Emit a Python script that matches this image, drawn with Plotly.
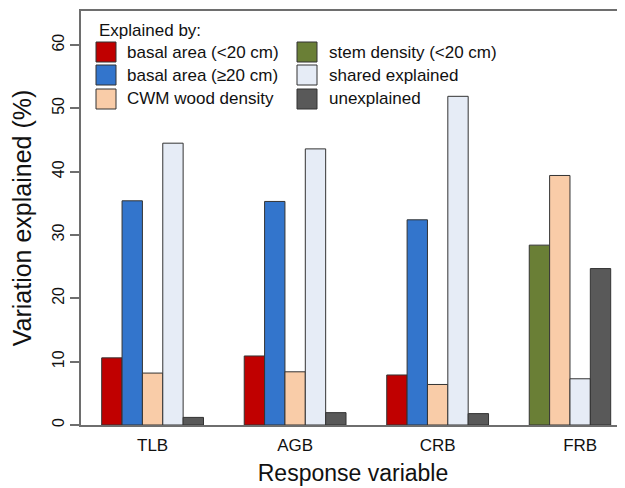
import plotly.graph_objects as go

# ---------------- data ----------------
categories = ["TLB", "AGB", "CRB", "FRB"]
series_names = ["basal area (<20 cm)", "stem density (<20 cm)", "basal area (≥20 cm)",
                "CWM wood density", "shared explained", "unexplained"]
basal_small = [10.6, 10.9, 7.9, None]
stem_density = [None, None, None, 28.4]
basal_large = [35.4, 35.3, 32.4, None]
cwm_wood_density = [8.2, 8.4, 6.4, 39.4]
shared_explained = [44.5, 43.6, 51.9, 7.3]
unexplained = [1.2, 1.95, 1.8, 24.7]
y_ticks = [0, 10, 20, 30, 40, 50, 60]

series_values = [basal_small, stem_density, basal_large, cwm_wood_density, shared_explained, unexplained]
colors = ["#C00000", "#6A7F36", "#3375CC", "#F9CCA8", "#E6ECF6", "#595959"]

# ---------------- layout geometry (pixels, page body has 8px margin) ----------------
OFF = 8
W, H = 625 - OFF, 488 - OFF
L, T, B, R = 81 - OFF, 11 - OFF, 425 - OFF, 625 - OFF
GROUP_PITCH = 7  # bars per group incl. gap

# compact slot assignment per group
xs = [[] for _ in series_values]
ys = [[] for _ in series_values]
for g in range(len(categories)):
    slot = 0
    for s, vals in enumerate(series_values):
        v = vals[g]
        if v is not None:
            xs[s].append(GROUP_PITCH * g + slot + 0.5)
            ys[s].append(v)
            slot += 1

fig = go.Figure()
for s, name in enumerate(series_names):
    fig.add_trace(go.Bar(x=xs[s], y=ys[s], name=name, width=1,
                         marker=dict(color=colors[s], line=dict(color="#333333", width=1)),
                         showlegend=False))

font_family = "Liberation Sans, Arial, sans-serif"
frame = "#6e6e6e"

px_per_unit = 20.36
x0_px = 101.7 - OFF
xlo = (L - x0_px) / px_per_unit
xhi = (R - x0_px) / px_per_unit

fig.update_layout(
    width=W, height=H,
    margin=dict(l=L, r=W - R, t=T, b=H - B, autoexpand=False),
    paper_bgcolor="white", plot_bgcolor="white",
    barmode="overlay",
    font=dict(family=font_family, color="#111111"),
    xaxis=dict(range=[xlo, xhi], showgrid=False, zeroline=False, automargin=False,
               showline=True, linecolor=frame, linewidth=2, mirror=True,
               tickmode="array",
               tickvals=[GROUP_PITCH * g + 2.5 for g in range(len(categories))],
               ticktext=categories, ticks="", tickfont=dict(size=17), ticklabelstandoff=4,
               title=dict(text="Response variable", font=dict(size=23), standoff=10)),
    yaxis=dict(range=[0, (B - T) / 6.333], showgrid=False, zeroline=False, automargin=False,
               showline=True, linecolor=frame, linewidth=2,
               tickmode="array", tickvals=y_ticks, ticks="outside", ticklen=9,
               tickcolor=frame, tickwidth=1.5, tickangle=-90, tickfont=dict(size=16),
               title=dict(text="Variation explained (%)", font=dict(size=25), standoff=11)),
)

# ---------------- custom legend ----------------
def px2paper(x, y):
    x -= OFF
    y -= OFF
    return (x - L) / (R - L), (B - y) / (B - T)

ax, ay = px2paper(97, 31)
fig.add_annotation(x=ax, y=ay, xref="paper", yref="paper", text="Explained by:",
                   showarrow=False, xanchor="left", yanchor="middle", font=dict(size=17))

legend_layout = [  # (series index, swatch x, text x, row center y) in reference pixels
    (0, 96, 125, 52), (2, 96, 125, 75), (3, 96, 125, 99),
    (1, 297, 327, 52), (4, 297, 327, 75), (5, 297, 327, 99),
]
for s, sx, tx, cy in legend_layout:
    x0, y0 = px2paper(sx, cy + 10)
    x1, y1 = px2paper(sx + 20, cy - 10)
    fig.add_shape(type="rect", xref="paper", yref="paper", x0=x0, y0=y0, x1=x1, y1=y1,
                  fillcolor=colors[s], line=dict(color="#333333", width=1))
    tx_p, ty_p = px2paper(tx, cy)
    fig.add_annotation(x=tx_p, y=ty_p, xref="paper", yref="paper", text=series_names[s],
                       showarrow=False, xanchor="left", yanchor="middle", font=dict(size=17))

fig.write_html("out.html")
